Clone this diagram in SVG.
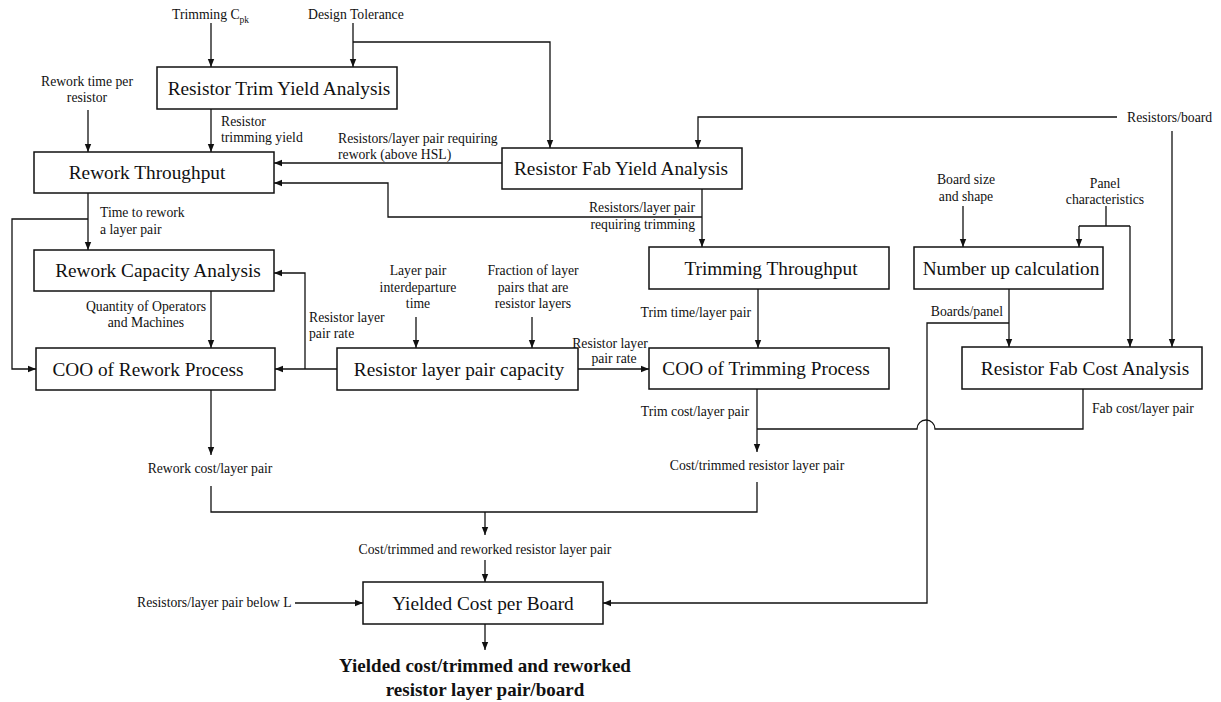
<svg xmlns="http://www.w3.org/2000/svg" width="1221" height="702" viewBox="0 0 1221 702">
<style>
.box{fill:#fff;stroke:#111;stroke-width:1.5}
.t{font-family:"Liberation Serif","Times New Roman",serif;font-size:19.3px;fill:#111;text-anchor:middle}
.l{font-family:"Liberation Serif","Times New Roman",serif;font-size:13.7px;fill:#111}
.m{text-anchor:middle}
.e{text-anchor:end}
.b{font-family:"Liberation Serif","Times New Roman",serif;font-size:19px;font-weight:bold;fill:#111;text-anchor:middle}
.c{fill:none;stroke:#111;stroke-width:1.3}
.a{marker-end:url(#ah)}
</style>
<defs>
<marker id="ah" viewBox="0 0 10 10" refX="10" refY="5" markerWidth="8" markerHeight="8" markerUnits="userSpaceOnUse" orient="auto"><path d="M0,1 L10,5 L0,9 z" fill="#111"/></marker>
</defs>
<rect width="1221" height="702" fill="#fff"/>
<g id="connectors">
<path class="c a" d="M211,23 V67"/>
<path class="c a" d="M353,23 V67"/>
<path class="c a" d="M353,42 H550 V148"/>
<path class="c a" d="M88,110 V152"/>
<path class="c a" d="M211,109 V152"/>
<path class="c a" d="M502,163 H274"/>
<path class="c a" d="M702,189 V247"/>
<path class="c a" d="M702,217 H388 V183 H274"/>
<path class="c a" d="M1117,117 H698 V148"/>
<path class="c a" d="M1172,131 V347"/>
<path class="c a" d="M963,206 V247"/>
<path class="c" d="M1106,206 V226 M1079,226 H1130"/>
<path class="c a" d="M1079,226 V247"/>
<path class="c a" d="M1130,226 V347"/>
<path class="c a" d="M1009,289 V347"/>
<path class="c a" d="M1009,323 H927 V603 H603"/>
<path class="c" d="M1083,389 V429 H935 A9,9 0 0 0 917,429 H757"/>
<path class="c a" d="M758,289 V348"/>
<path class="c a" d="M757,389 V452"/>
<path class="c a" d="M88,193 V250"/>
<path class="c a" d="M88,219 H12 V369 H36"/>
<path class="c a" d="M211,291 V348"/>
<path class="c a" d="M337,369 H275"/>
<path class="c a" d="M305,369 V273 H274"/>
<path class="c a" d="M416,317 V348"/>
<path class="c a" d="M532,317 V348"/>
<path class="c a" d="M578,369 H649"/>
<path class="c a" d="M211,390 V455"/>
<path class="c" d="M211,486 V512 H757 V482"/>
<path class="c a" d="M485,512 V535"/>
<path class="c a" d="M485,560 V582"/>
<path class="c a" d="M295,603 H363"/>
<path class="c a" d="M485,624 V650"/>
</g>
<g id="labels">
<text class="l" x="172" y="19">Trimming C<tspan font-size="9.5" dy="4">pk</tspan></text>
<text class="l" x="308" y="19">Design Tolerance</text>
<text class="l m" x="87" y="86">Rework time per</text>
<text class="l m" x="87" y="102">resistor</text>
<text class="l" x="221" y="126">Resistor</text>
<text class="l" x="221" y="142">trimming yield</text>
<text class="l" x="338" y="143">Resistors/layer pair requiring</text>
<text class="l" x="338" y="159">rework (above HSL)</text>
<text class="l e" x="695" y="212">Resistors/layer pair</text>
<text class="l e" x="695" y="229">requiring trimming</text>
<text class="l" x="1127" y="122">Resistors/board</text>
<text class="l m" x="966" y="184">Board size</text>
<text class="l m" x="966" y="201">and shape</text>
<text class="l m" x="1105" y="188">Panel</text>
<text class="l m" x="1105" y="204">characteristics</text>
<text class="l" x="100" y="217">Time to rework</text>
<text class="l" x="100" y="234">a layer pair</text>
<text class="l m" x="146" y="311">Quantity of Operators</text>
<text class="l m" x="146" y="327">and Machines</text>
<text class="l" x="309" y="322">Resistor layer</text>
<text class="l" x="309" y="338">pair rate</text>
<text class="l m" x="418" y="275">Layer pair</text>
<text class="l m" x="418" y="292">interdeparture</text>
<text class="l m" x="418" y="308">time</text>
<text class="l m" x="533" y="275">Fraction of layer</text>
<text class="l m" x="533" y="292">pairs that are</text>
<text class="l m" x="533" y="308">resistor layers</text>
<text class="l e" x="751" y="317">Trim time/layer pair</text>
<text class="l m" x="610" y="348">Resistor layer</text>
<text class="l m" x="614" y="363">pair rate</text>
<text class="l e" x="1003" y="316">Boards/panel</text>
<text class="l e" x="749" y="416">Trim cost/layer pair</text>
<text class="l" x="1092" y="413">Fab cost/layer pair</text>
<text class="l m" x="210" y="473">Rework cost/layer pair</text>
<text class="l m" x="757" y="470">Cost/trimmed resistor layer pair</text>
<text class="l m" x="485" y="554">Cost/trimmed and reworked resistor layer pair</text>
<text class="l" x="137" y="607">Resistors/layer pair below L</text>
<text class="b" x="485" y="672">Yielded cost/trimmed and reworked</text>
<text class="b" x="485" y="696">resistor layer pair/board</text>
</g>
<g id="trim-yield"><rect class="box" x="157" y="67" width="240" height="42"/><text class="t" x="279" y="95">Resistor Trim Yield Analysis</text></g>
<g id="rework-throughput"><rect class="box" x="34" y="152" width="240" height="41"/><text class="t" x="147" y="179">Rework Throughput</text></g>
<g id="fab-yield"><rect class="box" x="502" y="148" width="240" height="41"/><text class="t" x="621" y="175">Resistor Fab Yield Analysis</text></g>
<g id="rework-capacity"><rect class="box" x="34" y="250" width="240" height="41"/><text class="t" x="158" y="277">Rework Capacity Analysis</text></g>
<g id="coo-rework"><rect class="box" x="36" y="348" width="239" height="42"/><text class="t" x="148" y="376">COO of Rework Process</text></g>
<g id="layer-capacity"><rect class="box" x="337" y="348" width="241" height="42"/><text class="t" x="459" y="376">Resistor layer pair capacity</text></g>
<g id="trimming-throughput"><rect class="box" x="649" y="247" width="240" height="42"/><text class="t" x="771" y="275">Trimming Throughput</text></g>
<g id="coo-trimming"><rect class="box" x="649" y="348" width="240" height="41"/><text class="t" x="766" y="375">COO of Trimming Process</text></g>
<g id="number-up"><rect class="box" x="914" y="247" width="189" height="42"/><text class="t" x="1011" y="275">Number up calculation</text></g>
<g id="fab-cost"><rect class="box" x="962" y="347" width="240" height="42"/><text class="t" x="1085" y="375">Resistor Fab Cost Analysis</text></g>
<g id="yielded-cost"><rect class="box" x="363" y="582" width="240" height="42"/><text class="t" x="483" y="610">Yielded Cost per Board</text></g>
</svg>
